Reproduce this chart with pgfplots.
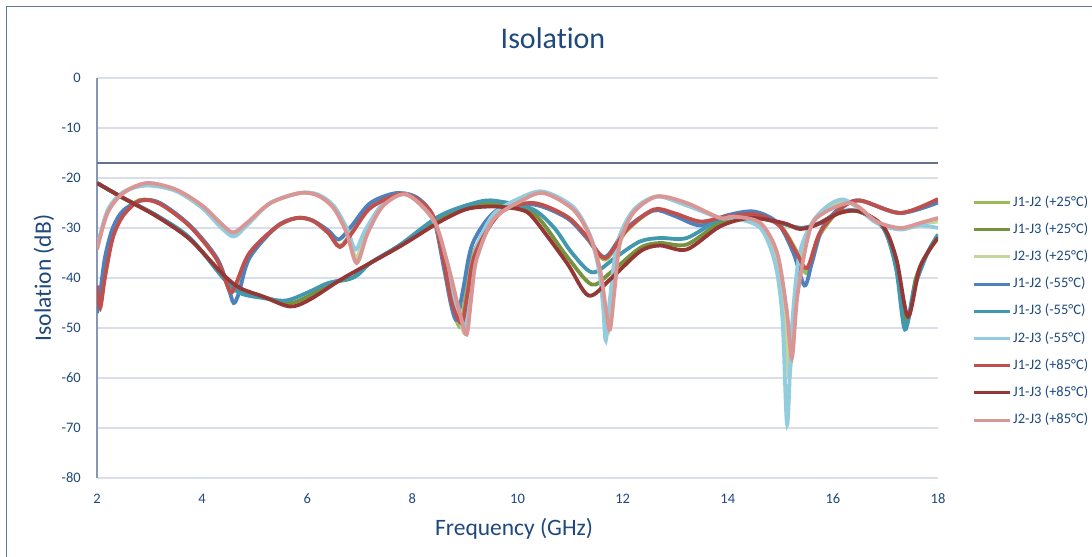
\documentclass[border=0pt]{standalone}
\usepackage{fontspec}
\setmainfont{Carlito}[Ligatures=CommonOff]
\usepackage{pgfplots}
\pgfplotsset{compat=1.18}

\definecolor{txtblue}{RGB}{31,73,125}
\definecolor{gridc}{RGB}{217,222,234}
\definecolor{axisc}{RGB}{134,152,182}
\definecolor{limitc}{RGB}{96,116,146}
\definecolor{framec}{RGB}{100,120,155}
\definecolor{cA25}{RGB}{155,187,89}
\definecolor{cB25}{RGB}{118,146,60}
\definecolor{cC25}{RGB}{195,214,155}
\definecolor{cA55}{RGB}{79,129,189}
\definecolor{cB55}{RGB}{65,152,175}
\definecolor{cC55}{RGB}{147,205,221}
\definecolor{cA85}{RGB}{192,80,77}
\definecolor{cB85}{RGB}{149,55,53}
\definecolor{cC85}{RGB}{218,150,148}

\newcommand{\tickfont}{\fontsize{14.5bp}{17bp}\selectfont}
\newcommand{\labfont}{\fontsize{23.5bp}{28bp}\selectfont}
\newcommand{\titfont}{\fontsize{30bp}{34bp}\selectfont}

\begin{document}
\begin{tikzpicture}
\useasboundingbox (0bp,0bp) rectangle (1092bp,557bp);
\fill[white] (0bp,0bp) rectangle (1092bp,557bp);
\draw[framec, line width=1bp] (6bp,-10bp) -- (6bp,550bp) -- (1100bp,550bp);

\begin{axis}[
    at={(97bp,79bp)}, anchor=south west,
    scale only axis, width=841bp, height=400bp,
    xmin=2, xmax=18, ymin=-80, ymax=0,
    axis x line*=bottom, axis y line*=left,
    axis line style={-},
    x axis line style={draw=gridc, line width=1.3bp},
    y axis line style={draw=axisc, line width=1.3bp},
    major tick length=0pt,
    xtick={2,4,...,18},
    xticklabels={2,4,6,8,10,12,14,16,18},
    ytick={-80,-70,...,0},
    yticklabels={-80,-70,-60,-50,-40,-30,-20,-10,0},
    ymajorgrids,
    grid style={draw=gridc, line width=1.3bp},
    xticklabel style={font=\tickfont, text=txtblue, anchor=base, inner sep=0pt, yshift=-25.3bp},
    yticklabel style={font=\tickfont, text=txtblue, anchor=east, inner sep=0pt, xshift=-16bp},
    title={Isolation},
    title style={font=\titfont, text=txtblue, at={(axis description cs:0.5422,1.0585)}, anchor=base, inner sep=0pt},
    xlabel={Frequency (GHz)},
    xlabel style={font=\labfont, text=txtblue, at={(axis description cs:0.496,-0.1425)}, anchor=base, inner sep=0pt},
    ylabel={Isolation (dB)},
    ylabel style={font=\labfont, text=txtblue, at={(axis description cs:-0.055,0.5)}, anchor=base, inner sep=0pt},
    every axis plot/.append style={line width=3.8bp, smooth},
    legend cell align=left,
    legend image code/.code={\draw[#1, line width=3bp] (0bp,0bp) -- (36bp,0bp);},
    legend style={draw=none, fill=none, font=\tickfont, text=txtblue,
        at={(1.0404,0.4167)}, anchor=west, inner sep=0pt,
        row sep=13.2bp, column sep=2bp,
        nodes={inner sep=0pt, text height=10.5bp, text depth=3.5bp}},
]

% limit line
\addplot[draw=limitc, line width=1.5bp, forget plot] coordinates {(2,-17) (18,-17)};

% J1-J2 (+25)
\addplot[cA25] coordinates {
(2.0,-42) (2.06,-45.5) (2.15,-39) (2.3,-31.5) (2.5,-27) (2.82,-24.4) (3.2,-25.1)
(3.77,-29.6) (4.28,-36.2) (4.53,-42.5) (4.65,-41.5) (4.9,-35.3) (5.42,-29.8) (5.8,-28)
(6.1,-28.5) (6.4,-31) (6.62,-33.6) (6.85,-30.8) (7.2,-25.8) (7.76,-23.2) (8.1,-24.2)
(8.4,-27.8) (8.6,-37) (8.77,-46) (8.92,-49.8) (9.02,-43) (9.18,-34.5) (9.67,-26.8)
(10.3,-25.1) (10.94,-27.8) (11.32,-32) (11.67,-36.3) (12.08,-30.5) (12.59,-26.4)
(12.97,-27.2) (13.48,-28.9) (13.98,-27.6) (14.55,-27) (15.0,-29.5) (15.3,-34.5)
(15.5,-39) (15.72,-32) (16.13,-26.3) (16.51,-24.5) (17.28,-27) (18.0,-24.5)};
\addlegendentry{J1-J2 (+25°C)}

% J1-J3 (+25)
\addplot[cB25] coordinates {
(2.0,-21) (2.5,-24) (3.14,-27.6) (3.77,-32.2) (4.4,-39.6) (4.72,-42.5) (5.16,-43.8)
(5.67,-45) (6.05,-43.5) (6.45,-41) (6.85,-40) (7.2,-37) (7.76,-33.5) (8.53,-28)
(9.2,-25.3) (9.6,-25.2) (10.3,-27) (10.94,-35.7) (11.41,-41.3) (11.76,-39)
(12.33,-34) (12.71,-33) (13.22,-33.3) (13.85,-29) (14.4,-27.7) (15.0,-29) (15.4,-30)
(15.75,-29) (16.13,-26.8) (16.5,-26.7) (16.96,-30) (17.2,-37.5) (17.4,-49)
(17.58,-40) (17.8,-35) (18.0,-31.5)};
\addlegendentry{J1-J3 (+25°C)}

% J2-J3 (+25)
\addplot[cC25] coordinates {
(2.0,-34.2) (2.2,-26.8) (2.5,-23) (2.95,-21.2) (3.5,-22.4) (4.0,-25.7) (4.35,-29.3)
(4.6,-31.3) (4.85,-29.2) (5.3,-25) (5.86,-23) (6.2,-23.4) (6.5,-25.8) (6.75,-30.5)
(6.93,-36) (7.12,-30.8) (7.45,-25.3) (7.89,-23.3) (8.4,-28.4) (8.64,-36.6)
(8.87,-46.5) (9.0,-51) (9.1,-43.5) (9.21,-35.5) (9.54,-27.8) (10.05,-24.4)
(10.49,-22.9) (11.06,-26) (11.38,-31.6) (11.56,-38.4) (11.66,-46) (11.72,-51)
(11.8,-43) (11.93,-33) (12.2,-26.8) (12.65,-23.7) (13.22,-25.2) (13.85,-28)
(14.11,-27.8) (14.62,-29.5) (14.92,-36) (15.08,-47) (15.17,-60) (15.27,-46)
(15.43,-34) (15.69,-27.8) (16.25,-24.6) (16.83,-28.8) (17.28,-30.1) (17.66,-29.2)
(18.0,-28.7)};
\addlegendentry{J2-J3 (+25°C)}

% J1-J2 (-55)
\addplot[cA55] coordinates {
(2.0,-47) (2.05,-44) (2.15,-36) (2.3,-30) (2.5,-26.5) (2.85,-24.5) (3.2,-25)
(3.77,-29.5) (4.28,-36) (4.5,-42) (4.6,-45) (4.7,-43) (4.9,-36) (5.42,-29.7)
(5.8,-28) (6.1,-28.5) (6.4,-30.5) (6.6,-32.3) (6.85,-29.5) (7.2,-25) (7.7,-23)
(8.1,-24) (8.4,-28) (8.6,-38) (8.75,-46) (8.85,-48.3) (8.97,-42) (9.15,-33)
(9.6,-26.5) (10.3,-25.3) (10.94,-28) (11.32,-32) (11.67,-35.8) (12.08,-30)
(12.59,-26.5) (12.97,-27.5) (13.48,-29.5) (13.98,-27.5) (14.5,-26.7) (14.95,-29)
(15.25,-35) (15.46,-41.5) (15.6,-37) (15.8,-30) (16.13,-26) (16.51,-24.5)
(17.28,-27) (18.0,-24.9)};
\addlegendentry{J1-J2 (-55°C)}

% J1-J3 (-55)
\addplot[cB55] coordinates {
(2.0,-21) (2.5,-24) (3.14,-27.5) (3.77,-32) (4.4,-40) (4.72,-43) (5.16,-44)
(5.6,-44.5) (6.05,-42.7) (6.4,-41) (6.9,-39.8) (7.2,-37) (7.76,-33.4) (8.53,-27.5)
(9.29,-24.7) (9.67,-24.7) (10.3,-26.3) (10.7,-30) (11.0,-34.5) (11.32,-38.3)
(11.51,-38.7) (11.89,-35.7) (12.33,-32.7) (12.71,-32) (13.22,-32) (13.85,-28.3)
(14.4,-27.5) (15.0,-29) (15.4,-30) (15.75,-29) (16.13,-26.8) (16.5,-26.7)
(16.96,-30) (17.2,-38) (17.37,-50.3) (17.55,-42) (17.8,-35) (18.0,-31.3)};
\addlegendentry{J1-J3 (-55°C)}

% J2-J3 (-55)
\addplot[cC55] coordinates {
(2.0,-34) (2.2,-26.5) (2.5,-22.8) (2.95,-21.5) (3.5,-22.6) (4.0,-26) (4.35,-29.8)
(4.6,-31.7) (4.85,-29.5) (5.3,-25) (5.86,-23) (6.2,-23.3) (6.5,-25.5) (6.75,-30)
(6.92,-34.3) (7.1,-30.5) (7.45,-25) (7.89,-23.2) (8.4,-28.5) (8.62,-37)
(8.85,-46.5) (8.98,-50) (9.08,-43) (9.2,-34.5) (9.54,-27.3) (10.05,-24)
(10.49,-22.7) (11.06,-25.8) (11.38,-31.5) (11.55,-38.5) (11.63,-46) (11.68,-52.5)
(11.76,-44) (11.9,-33) (12.2,-26.5) (12.65,-23.7) (13.22,-25.5) (13.85,-28)
(14.11,-28) (14.62,-30) (14.9,-37) (15.04,-48) (15.13,-69.3) (15.22,-50)
(15.37,-35) (15.69,-27.7) (16.2,-24.3) (16.83,-29) (17.28,-30.3) (17.66,-29.5)
(18.0,-30)};
\addlegendentry{J2-J3 (-55°C)}

% J1-J2 (+85)
\addplot[cA85] coordinates {
(2.0,-41.5) (2.06,-46) (2.15,-40) (2.3,-32) (2.5,-27.5) (2.82,-24.5) (3.2,-25.2)
(3.77,-29.7) (4.28,-36.3) (4.53,-42.7) (4.65,-41) (4.9,-35) (5.42,-29.7) (5.8,-28)
(6.1,-28.5) (6.4,-31) (6.62,-33.8) (6.85,-31) (7.2,-26) (7.76,-23.2) (8.1,-24.3)
(8.4,-27.7) (8.59,-36.3) (8.75,-45) (8.94,-49) (9.05,-43) (9.2,-35) (9.67,-27)
(10.3,-25) (10.94,-27.7) (11.32,-31.7) (11.67,-36) (12.08,-30.3) (12.59,-26.3)
(12.97,-27) (13.48,-28.7) (13.98,-27.7) (14.55,-27.3) (15.0,-29.7) (15.31,-35)
(15.51,-38) (15.75,-31) (16.13,-26.3) (16.51,-24.5) (17.28,-27) (18.0,-24.2)};
\addlegendentry{J1-J2 (+85°C)}

% J1-J3 (+85)
\addplot[cB85] coordinates {
(2.0,-21) (2.5,-24) (3.14,-27.7) (3.77,-32.3) (4.4,-39.3) (4.72,-42) (5.16,-43.7)
(5.67,-45.7) (6.05,-44.3) (6.69,-40) (7.76,-33.7) (8.53,-28.7) (9.04,-26.2)
(9.54,-25.7) (10.05,-26.3) (10.3,-28) (10.94,-37) (11.35,-43.5) (11.76,-40.3)
(12.33,-34.7) (12.71,-33.5) (13.22,-34.3) (13.85,-29.7) (14.43,-28) (15.06,-29)
(15.37,-30.2) (15.7,-29.3) (16.13,-27) (16.51,-26.7) (16.96,-29.7) (17.21,-36.3)
(17.43,-47.7) (17.66,-37.7) (18.0,-32)};
\addlegendentry{J1-J3 (+85°C)}

% J2-J3 (+85)
\addplot[cC85] coordinates {
(2.0,-34.3) (2.2,-27) (2.5,-23) (2.95,-21) (3.5,-22.3) (4.0,-25.5) (4.35,-29)
(4.59,-30.9) (4.85,-29) (5.3,-25) (5.86,-23) (6.2,-23.5) (6.5,-26) (6.75,-31)
(6.94,-37) (7.15,-31) (7.45,-25.5) (7.89,-23.3) (8.4,-28.3) (8.65,-36.3)
(8.88,-46) (9.03,-51.3) (9.12,-44) (9.22,-36.3) (9.54,-28.3) (10.05,-24.7)
(10.49,-23) (11.06,-26.3) (11.38,-31.7) (11.57,-38.3) (11.68,-46) (11.76,-50.3)
(11.85,-42) (11.95,-33) (12.2,-27) (12.65,-23.7) (13.22,-25) (13.85,-28)
(14.11,-27.7) (14.62,-29) (14.94,-35) (15.12,-46.3) (15.22,-56) (15.32,-44)
(15.5,-33) (15.69,-28) (16.33,-25) (16.83,-28.7) (17.28,-30) (17.66,-29) (18.0,-28)};
\addlegendentry{J2-J3 (+85°C)}

\end{axis}
\end{tikzpicture}
\end{document}
